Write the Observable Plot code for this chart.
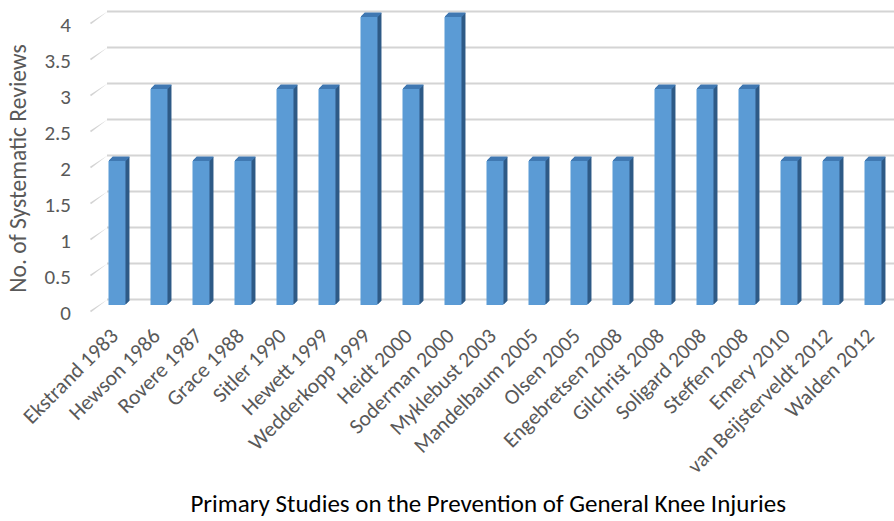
<!DOCTYPE html>
<html>
<head>
<meta charset="utf-8">
<script src="https://cdn.jsdelivr.net/npm/d3@7"></script>
<script src="https://cdn.jsdelivr.net/npm/@observablehq/plot@0.6"></script>
<style>
  html, body { margin: 0; padding: 0; background: #fff; }
  #chart { width: 894px; height: 521px; }
</style>
</head>
<body>
<div id="chart"></div>
<script>
const studies = ["Ekstrand 1983", "Hewson 1986", "Rovere 1987", "Grace 1988", "Sitler 1990",
  "Hewett 1999", "Wedderkopp 1999", "Heidt 2000", "Soderman 2000", "Myklebust 2003",
  "Mandelbaum 2005", "Olsen 2005", "Engebretsen 2008", "Gilchrist 2008", "Soligard 2008",
  "Steffen 2008", "Emery 2010", "van Beijsterveldt 2012", "Walden 2012"];
const reviews = [2, 3, 2, 2, 3, 3, 4, 3, 4, 2, 2, 2, 2, 3, 3, 3, 2, 2, 2];
const yTicks = [0, 0.5, 1, 1.5, 2, 2.5, 3, 3.5, 4];
const yTitle = "No. of Systematic Reviews";
const xTitle = "Primary Studies on the Prevention of General Knee Injuries";

const data = studies.map((s, i) => ({study: s, value: reviews[i]}));

const FONT = "Carlito, Calibri, Lato, sans-serif";
const frontColor = "#5B9BD5", sideColor = "#305B87", topColor = "#4079B2";
const gridColor = "#D4D4D4", textGray = "#595959";
const inL = 12.5, barW = 17, depth = 4;
const band = (894 - 95.5) / studies.length;
const inR = band - inL - barW;

const marks = [];
// back-wall gridlines
marks.push(Plot.ruleY(yTicks, {y: d => d, dy: -6, insetLeft: 11.5, stroke: gridColor, strokeWidth: 1.8}));
// floor/side diagonals
marks.push(Plot.vector(yTicks, {y: d => d, frameAnchor: "left", dx: -5.5, dy: 6,
  length: 20.8, rotate: 54.8, anchor: "start", shape: "spike", r: 0.9,
  fill: gridColor, stroke: "none"}));
// extrusion (side)
for (let k = depth; k >= 1; k -= 0.5) {
  marks.push(Plot.barY(data, {x: "study", y: "value", fill: sideColor, dx: k, dy: -k,
    insetLeft: inL, insetRight: inR}));
}
// top cap
for (let k = depth; k >= 0.5; k -= 0.5) {
  marks.push(Plot.tickY(data, {x: "study", y: "value", stroke: topColor, strokeWidth: 1,
    dx: k, dy: -k - 0.5, insetLeft: inL, insetRight: inR}));
}
// front face
marks.push(Plot.barY(data, {x: "study", y: "value", fill: frontColor, insetLeft: inL, insetRight: inR}));
// axes
marks.push(Plot.axisY({ticks: yTicks, tickFormat: d => String(d), tickSize: 0, tickPadding: 25,
  dy: 7.5, fontSize: 21, fill: textGray, label: null}));
marks.push(Plot.axisX({tickSize: 0, tickRotate: -45, tickPadding: 27, dx: -3, fontSize: 21.5,
  fill: textGray, label: null}));
marks.push(Plot.text([yTitle], {text: d => d, frameAnchor: "left", textAnchor: "middle",
  rotate: -90, dx: -77.5, dy: 7, fontSize: 23.5, fill: textGray}));
marks.push(Plot.text([xTitle], {text: d => d, frameAnchor: "bottom", textAnchor: "middle",
  dy: 206, dx: -7, fontSize: 25, fill: "#000"}));

const chart = Plot.plot({
  width: 894,
  height: 521,
  marginLeft: 95.5,
  marginRight: 0,
  marginTop: 17,
  marginBottom: 216,
  style: {fontFamily: FONT, background: "#fff", overflow: "visible"},
  x: {domain: studies, padding: 0, label: null},
  y: {domain: [0, 4], label: null},
  marks
});
document.getElementById("chart").appendChild(chart);
</script>
</body>
</html>
